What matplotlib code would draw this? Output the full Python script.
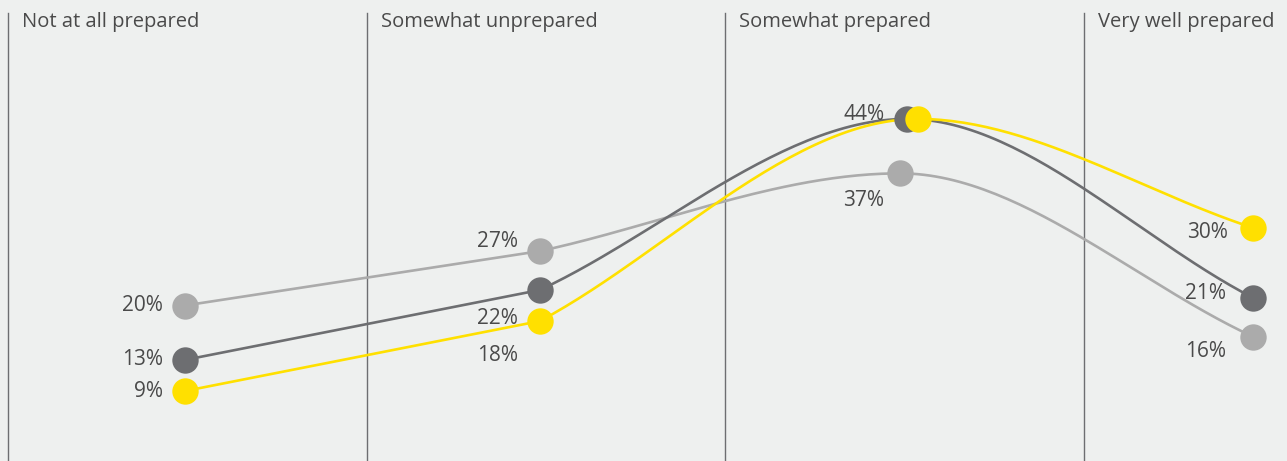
import numpy as np
import matplotlib
matplotlib.use("Agg")
import matplotlib.pyplot as plt

# Categories and series values (percent)
categories = ["Not at all prepared", "Somewhat unprepared", "Somewhat prepared", "Very well prepared"]
light_vals = [20, 27, 37, 16]
dark_vals = [13, 22, 44, 21]
yellow_vals = [9, 18, 44, 30]

# point positions inside each column (column i spans i..i+1)
x_light = [0.493, 1.483, 2.487, 3.471]
x_dark = [0.493, 1.483, 2.506, 3.471]
x_yellow = [0.493, 1.483, 2.537, 3.471]

LIGHT = "#ababab"
DARK = "#6d6e71"
YELLOW = "#ffe000"
BG = "#eef0ef"
TXT = "#4a4a4a"
FONT = ["Open Sans", "DejaVu Sans"]


def spline(x, y, n=60):
    # each segment: cubic with its own slope at the ends, flat at local peaks
    x = np.asarray(x, float)
    y = np.asarray(y, float)
    xs, ys = [], []
    for i in range(len(x) - 1):
        h = x[i + 1] - x[i]
        s = (y[i + 1] - y[i]) / h
        m0, m1 = s, s
        if 0 < i and (y[i] - y[i - 1]) * (y[i + 1] - y[i]) < 0:
            m0 = 0
        if i + 2 < len(x) and (y[i + 1] - y[i]) * (y[i + 2] - y[i + 1]) < 0:
            m1 = 0
        t = np.linspace(0, 1, n)
        h00 = 2 * t**3 - 3 * t**2 + 1
        h10 = t**3 - 2 * t**2 + t
        h01 = -2 * t**3 + 3 * t**2
        h11 = t**3 - t**2
        xs.append(x[i] + t * h)
        ys.append(h00 * y[i] + h10 * h * m0 + h01 * y[i + 1] + h11 * h * m1)
    return np.concatenate(xs), np.concatenate(ys)


fig = plt.figure(figsize=(12.87, 4.61), dpi=100, facecolor=BG)
ax = fig.add_axes([0, 0, 1, 1], facecolor=BG)
ax.set_xlim(-0.0223, 3.566)
ax.set_ylim(0, 59.3)
ax.axis("off")

# column separators and headers
for i, cat in enumerate(categories):
    ax.axvline(i, ymin=0, ymax=0.972, color=DARK, lw=1.0)
    ax.text(i + 0.039, 1 - 22 / 461, cat, transform=ax.get_xaxis_transform(),
            ha="left", va="center", fontsize=14.5, color=TXT, family=FONT)

series = [
    (x_light, light_vals, LIGHT, [(-22, 0), (-22, 10), (-16, -27), (-27, -15)]),
    (x_dark, dark_vals, DARK, [(-22, 0), (-22, -29), (-22, 4), (-27, 4)]),
    (x_yellow, yellow_vals, YELLOW, [(-22, 0), (-22, -34), (None, None), (-25, -5)]),
]

for xs, vals, col, offs in series:
    cx, cy = spline(xs, vals)
    ax.plot(cx, cy, color=col, lw=1.9, zorder=2, solid_capstyle="round")
    ax.plot(xs, vals, "o", ms=19, color=col, mec="none", zorder=3)
    for xv, v, off in zip(xs, vals, offs):
        if off[0] is None:
            continue
        ax.annotate(f"{v}%", (xv, v), xytext=(off[0] * 0.72, off[1] * 0.72),
                    textcoords="offset points", ha="right", va="center",
                    fontsize=15, color=TXT, family=FONT)

fig.savefig("out.png", dpi=100, facecolor=BG)
